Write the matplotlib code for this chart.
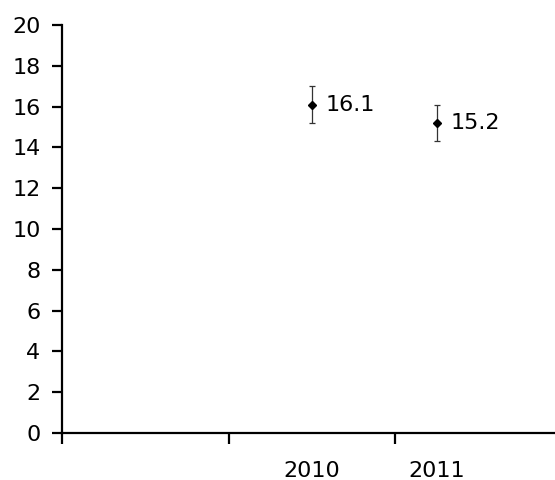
import matplotlib
matplotlib.use("Agg")
import matplotlib.pyplot as plt

years = ["2010", "2011"]
values = [16.1, 15.2]
errors = [0.9, 0.9]
yticks = [0, 2, 4, 6, 8, 10, 12, 14, 16, 18, 20]

# category slots on a 0..4 axis; points sit at 2 and 3
xpos = [2, 3]
boundaries = [0, 4 / 3, 8 / 3, 4]

fs = 16

fig = plt.figure(figsize=(5.55, 4.8), dpi=100)
ax = fig.add_axes([62 / 555, 47 / 480, 500 / 555, 408 / 480])
ax.set_xlim(0, 4)
ax.set_ylim(0, 20)

ax.errorbar(xpos, values, yerr=errors, fmt="D", color="black", markersize=4.5,
            ecolor="#333333", elinewidth=0.9, capsize=2.3, capthick=0.9)
for x, v in zip(xpos, values):
    ax.annotate(f"{v}", (x, v), xytext=(10, 0), textcoords="offset points",
                va="center", ha="left", fontsize=fs)

for s in ["top", "right"]:
    ax.spines[s].set_visible(False)
for s in ["left", "bottom"]:
    ax.spines[s].set_linewidth(1.6)
    ax.spines[s].set_clip_on(False)

ax.set_yticks(yticks)
ax.set_yticklabels([str(t) for t in yticks])
ax.tick_params(axis="y", length=7.5, width=1.6, pad=8, labelsize=fs)

ax.set_xticks(boundaries)
ax.set_xticklabels([])
ax.tick_params(axis="x", which="major", length=8, width=1.6, direction="out")
ax.set_xticks(xpos, minor=True)
ax.set_xticklabels(years, minor=True)
ax.tick_params(axis="x", which="minor", length=0, pad=20, labelsize=fs)

fig.savefig("out.png", dpi=100)
